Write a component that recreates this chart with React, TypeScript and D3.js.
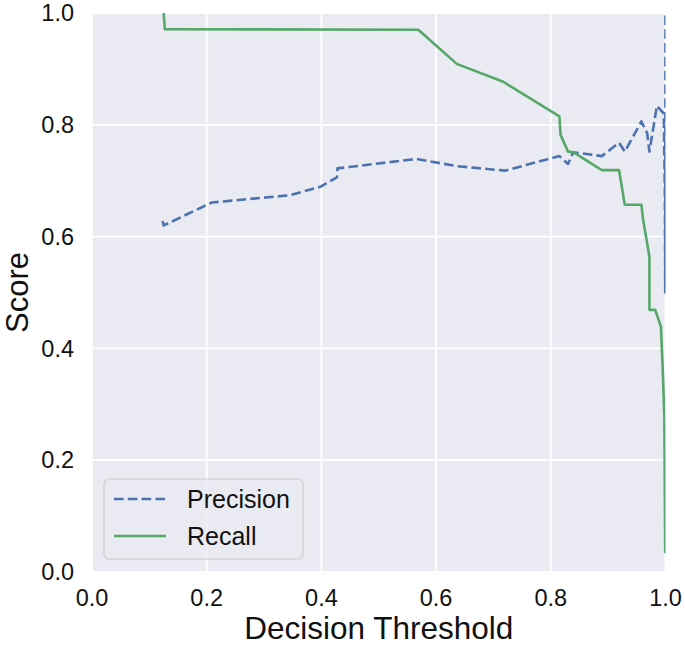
import * as d3 from 'd3';

// values
const precisionThresholds = [0.123, 0.125, 0.209, 0.345, 0.398, 0.427, 0.428, 0.566, 0.636, 0.72, 0.815, 0.83, 0.839, 0.889, 0.919, 0.929, 0.958, 0.968, 0.972, 0.985, 0.997, 0.999, 0.9995, 1.0];
const precisionValues = [0.628, 0.62, 0.661, 0.674, 0.689, 0.706, 0.722, 0.739, 0.726, 0.718, 0.744, 0.73, 0.751, 0.744, 0.768, 0.752, 0.806, 0.785, 0.752, 0.834, 0.82, 0.671, 0.5, 1.0];

const recallThresholds = [0.125, 0.127, 0.569, 0.636, 0.717, 0.815, 0.817, 0.83, 0.839, 0.889, 0.919, 0.929, 0.958, 0.961, 0.972, 0.972, 0.982, 0.992, 0.995, 0.998, 0.9995];
const recallValues = [1.0, 0.971, 0.97, 0.909, 0.877, 0.815, 0.782, 0.752, 0.751, 0.719, 0.719, 0.657, 0.657, 0.63, 0.564, 0.469, 0.469, 0.439, 0.367, 0.278, 0.034];

const ticks = [0, 0.2, 0.4, 0.6, 0.8, 1.0];

const W = 685;
const H = 645;
const margin = { top: 13, right: 19.5, bottom: 73, left: 92 };
const FONT = '"Liberation Sans", Arial, Helvetica, sans-serif';
const BLUE = '#4c72b0';
const GREEN = '#55a868';

export default function App() {
  const iw = W - margin.left - margin.right;
  const ih = H - margin.top - margin.bottom;

  const x = d3.scaleLinear().domain([0, 1]).range([0, iw]);
  const y = d3.scaleLinear().domain([0, 1]).range([ih, 0]);

  const line = d3.line<[number, number]>()
    .x(d => x(d[0]))
    .y(d => y(d[1]));

  const precisionPts = precisionThresholds.map((t, i) => [t, precisionValues[i]] as [number, number]);
  const recallPts = recallThresholds.map((t, i) => [t, recallValues[i]] as [number, number]);

  return (
    <svg
      width={W}
      height={H}
      style={{ position: 'absolute', left: 0, top: 0, background: '#fff' }}
      fontFamily={FONT}
    >
      <defs>
        <clipPath id="plot-clip">
          <rect width={iw} height={ih} />
        </clipPath>
      </defs>
      <g transform={`translate(${margin.left},${margin.top})`}>
        <rect width={iw} height={ih} fill="#eaeaf2" />
        {ticks.map(t => (
          <g key={`g${t}`}>
            <line x1={x(t)} x2={x(t)} y1={0} y2={ih} stroke="#fff" strokeWidth={1.8} />
            <line x1={0} x2={iw} y1={y(t)} y2={y(t)} stroke="#fff" strokeWidth={1.8} />
          </g>
        ))}

        <g clipPath="url(#plot-clip)">
          <path d={line(precisionPts) ?? ''} fill="none" stroke={BLUE} strokeWidth={2.6}
            strokeDasharray="9.6 4.2" strokeLinejoin="round" />
          <path d={line(recallPts) ?? ''} fill="none" stroke={GREEN} strokeWidth={2.6}
            strokeLinejoin="round" />
        </g>

        {/* x ticks */}
        {ticks.map(t => (
          <text key={`x${t}`} x={x(t)} y={ih + 34} fontSize={23.5} textAnchor="middle" fill="#111">
            {d3.format('.1f')(t)}
          </text>
        ))}
        {/* y ticks */}
        {ticks.map(t => (
          <text key={`y${t}`} x={-18} y={y(t)} dy="0.35em" fontSize={23.5} textAnchor="end" fill="#111">
            {d3.format('.1f')(t)}
          </text>
        ))}

        <text x={iw / 2} y={ih + 67} fontSize={31.5} textAnchor="middle" fill="#111">
          Decision Threshold
        </text>
        <text transform={`translate(${-64},${ih / 2}) rotate(-90)`} fontSize={31} textAnchor="middle" fill="#111">
          Score
        </text>

        {/* legend */}
        <g transform={`translate(12,${ih - 93})`}>
          <rect x={0} y={0} width={199} height={80} rx={5} fill="#eaeaf2" fillOpacity={0.8}
            stroke="#cccccc" strokeWidth={1.2} />
          <line x1={10} x2={62} y1={20} y2={20} stroke={BLUE} strokeWidth={2.6} strokeDasharray="9.6 4.2" />
          <text x={83} y={29} fontSize={25} fill="#111">Precision</text>
          <line x1={10} x2={62} y1={57} y2={57} stroke={GREEN} strokeWidth={2.6} />
          <text x={83} y={66} fontSize={25} fill="#111">Recall</text>
        </g>
      </g>
    </svg>
  );
}
